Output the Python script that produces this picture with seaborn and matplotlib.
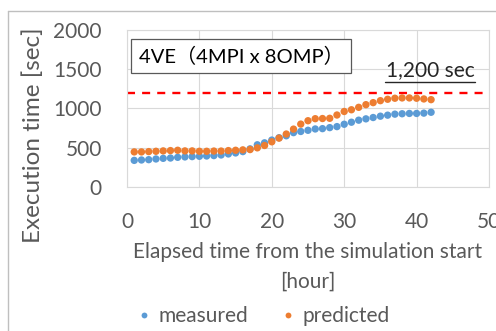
import numpy as np
import pandas as pd
import matplotlib
matplotlib.use("Agg")
import matplotlib.pyplot as plt
from matplotlib.lines import Line2D
import seaborn as sns

hours = list(range(1, 43))
measured = [336, 341, 345, 354, 362, 366, 375, 380, 384, 388, 392, 397, 405, 418,
            431, 448, 483, 535, 560, 595, 625, 650, 690, 705, 720, 737, 741, 754,
            767, 797, 823, 849, 866, 883, 900, 913, 926, 931, 935, 935, 939, 950]
predicted = [444, 444, 448, 452, 457, 461, 465, 457, 457, 452, 452, 455, 455, 461,
             465, 470, 474, 496, 526, 573, 620, 672, 735, 799, 842, 868, 870, 873,
             915, 960, 982, 1013, 1047, 1073, 1098, 1116, 1129, 1133, 1133, 1129,
             1120, 1111]
series_names = ["measured", "predicted"]
threshold = 1200
threshold_label = "1,200 sec"
box_label = "4VE（4MPI x 8OMP）"
x_ticks = [0, 10, 20, 30, 40, 50]
y_ticks = [0, 500, 1000, 1500, 2000]
xlabel_lines = ["Elapsed time from the simulation start", "[hour]"]
ylabel = "Execution time [sec]"

colors = {"measured": "#5B9BD5", "predicted": "#ED7D31"}
text_color = "#595959"
grid_color = "#D9D9D9"

sns.set_theme(style="white")
plt.rcParams["font.family"] = ["Lato", "Noto Sans CJK JP", "DejaVu Sans"]

df = pd.DataFrame({
    "hour": hours * 2,
    "time": measured + predicted,
    "series": ["measured"] * len(hours) + ["predicted"] * len(hours),
})

W, H = 496, 331
fig = plt.figure(figsize=(W / 100, H / 100), dpi=100)
ax = fig.add_axes([127 / W, 1 - 186.7 / H, (489 - 127) / W, (186.7 - 30) / H])

sns.scatterplot(data=df, x="hour", y="time", hue="series", palette=colors,
                s=28, linewidth=0, ax=ax, legend=False, zorder=3)

ax.axhline(threshold, color="#FF0000", lw=1.7, linestyle=(0, (3.4, 3.0)), zorder=2)

ax.set_xlim(0, 50)
ax.set_ylim(0, 2000)
ax.set_xticks(x_ticks)
ax.set_yticks(y_ticks)
ax.set_xlabel("")
ax.set_ylabel("")
ax.grid(True, color=grid_color, lw=0.8)
ax.set_axisbelow(True)
for sp in ax.spines.values():
    sp.set_color(grid_color)
    sp.set_linewidth(0.8)
ax.tick_params(length=0, pad=18, labelsize=15, colors=text_color)

fig.text(33 / W, 1 - 135 / H, ylabel, rotation=90, ha="center", va="center",
         fontsize=17.5, color=text_color)
fig.text(308 / W, 1 - 252 / H, xlabel_lines[0], ha="center", va="center",
         fontsize=15, color=text_color)
fig.text(308 / W, 1 - 282 / H, xlabel_lines[1], ha="center", va="center",
         fontsize=15, color=text_color)

fig.text(139 / W, 1 - 56 / H, box_label, ha="left", va="center", fontsize=14.5,
         color="black",
         bbox=dict(boxstyle="square,pad=0.38", fc="white", ec="#595959", lw=0.9))

fig.text(430 / W, 1 - 70 / H, threshold_label, ha="center", va="center",
         fontsize=15, color="#262626")
fig.add_artist(Line2D([385 / W, 475 / W], [1 - 82 / H, 1 - 82 / H],
                      color="#262626", lw=1.0))

handles = [Line2D([], [], marker="o", linestyle="", markersize=4.2,
                  markerfacecolor=colors[n], markeredgewidth=0, label=n)
           for n in series_names]
leg = fig.legend(handles=handles, loc="center", bbox_to_anchor=(264 / W, 1 - 316 / H),
                 ncol=2, frameon=False, fontsize=15, handlelength=0.6,
                 handletextpad=0.4, columnspacing=1.6)
for t in leg.get_texts():
    t.set_color(text_color)

# outer chart border
fig.add_artist(Line2D([8 / W, 8 / W], [0, 1 - 11 / H], color="#BFBFBF", lw=1.0))
fig.add_artist(Line2D([8 / W, 1], [1 - 11 / H, 1 - 11 / H], color="#BFBFBF", lw=1.0))

fig.savefig("out.png", dpi=100)
